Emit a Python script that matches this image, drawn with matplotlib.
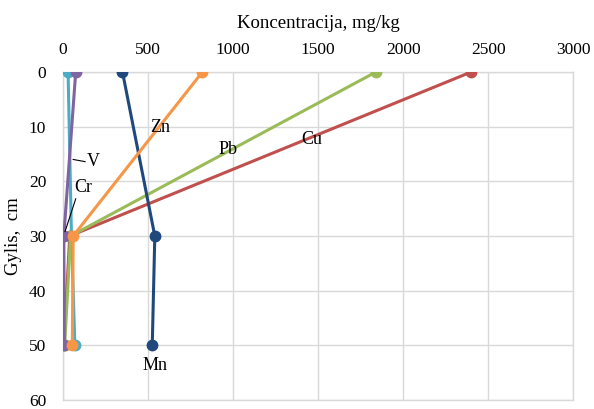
import matplotlib
matplotlib.use("Agg")
import matplotlib.pyplot as plt

plt.rcParams['font.family'] = ['Liberation Serif', 'DejaVu Serif']

depth = [0, 30, 50]
cu = [2400, 40, 5]
pb = [1840, 45, 10]
zn = [820, 60, 55]
mn = [350, 540, 525]
v = [30, 50, 70]
cr = [75, 5, 8]

series = [
    ("V", v, "#4BACC6"),
    ("Cu", cu, "#C0504D"),
    ("Pb", pb, "#9BBB59"),
    ("Cr", cr, "#8064A2"),
    ("Mn", mn, "#1F497D"),
    ("Zn", zn, "#F79646"),
]

tick_fs = 12.5
title_fs = 13.5
lab_fs = 13

fig = plt.figure(figsize=(5.94, 4.09), dpi=100)
ax = fig.add_axes([0.106, 0.022, 0.859, 0.802])

for name, vals, col in series:
    ax.plot(vals, depth, color=col, lw=2.2, marker='o', ms=7.5, zorder=3)

ax.set_xlim(0, 3000)
ax.set_ylim(60, 0)
ax.set_xticks(range(0, 3001, 500))
ax.set_yticks(range(0, 61, 10))
ax.xaxis.tick_top()
ax.xaxis.set_label_position('top')
ax.tick_params(axis='x', length=0, labelsize=tick_fs, pad=10)
ax.tick_params(axis='y', length=0, labelsize=tick_fs, pad=12)
ax.set_xlabel("Koncentracija, mg/kg", fontsize=title_fs, labelpad=10)
ax.set_ylabel("Gylis,  cm", fontsize=title_fs)
ax.yaxis.set_label_coords(-0.08, 0.5)
ax.grid(True, color='#D9D9D9', lw=1.0)
for s in ax.spines.values():
    s.set_color('#D9D9D9')
    s.set_linewidth(1.0)

lab_kw = dict(fontsize=lab_fs, color='black', zorder=5)
ax.text(570, 10.2, "Zn", ha='center', va='center', **lab_kw)
ax.text(970, 14.1, "Pb", ha='center', va='center', **lab_kw)
ax.text(1460, 12.4, "Cu", ha='center', va='center', **lab_kw)
ax.text(540, 53.6, "Mn", ha='center', va='center', **lab_kw)
ax.text(140, 16.3, "V", ha='left', va='center', **lab_kw)
ax.plot([60, 130], [16.0, 16.4], color='black', lw=0.8, zorder=5)
ax.text(65, 21.2, "Cr", ha='left', va='center', **lab_kw)
ax.plot([75, 12], [23.2, 29.2], color='black', lw=0.8, zorder=5)

fig.savefig("out.png", dpi=100)
